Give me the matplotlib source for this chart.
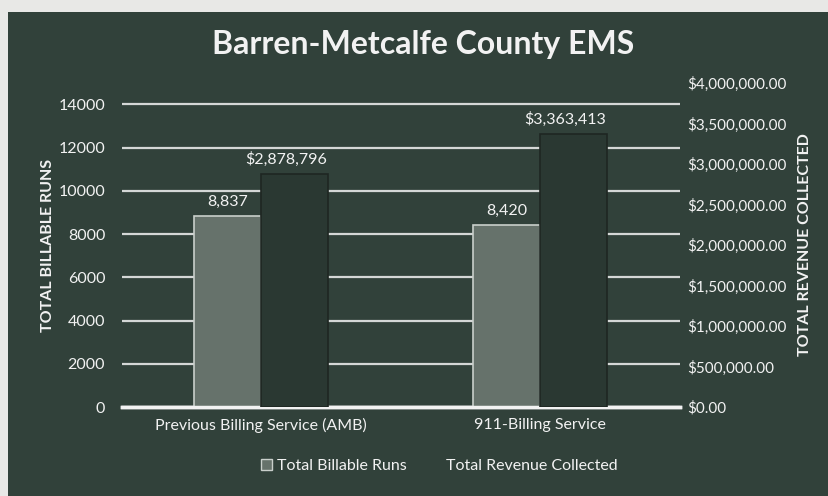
import matplotlib
matplotlib.use("Agg")
import matplotlib.pyplot as plt
from matplotlib.ticker import FuncFormatter
from matplotlib.patches import Patch, Rectangle

categories = ["Previous Billing Service (AMB)", "911-Billing Service"]
billable_runs = [8837, 8420]
revenue = [2878796, 3363413]
left_ticks = [0, 2000, 4000, 6000, 8000, 10000, 12000, 14000]
right_ticks = [0, 500000, 1000000, 1500000, 2000000, 2500000, 3000000, 3500000, 4000000]

BG = "#31413a"
RUNS_C = "#66726b"
REV_C = "#2a3832"
WHITE = "#f2f2f2"
FONT = ["Lato", "DejaVu Sans"]
plt.rcParams["font.family"] = FONT

fig = plt.figure(figsize=(8.29, 4.96), dpi=100, facecolor="#e8e8e6")
fig.patches.append(Rectangle((8 / 829, 0), 1 - 8 / 829, 1 - 12 / 496, transform=fig.transFigure,
                             facecolor=BG, edgecolor="none", zorder=-10))
ax = fig.add_axes([0.147, 0.179, 0.673, 0.654])
ax.set_facecolor("none")
ax2 = ax.twinx()

x = list(range(len(categories)))
w = 0.24
ax.set_xlim(-0.5, 1.5)
ax.set_ylim(0, 15000)
ax2.set_ylim(0, 4000000)

ax.set_yticks(left_ticks)
ax.grid(axis="y", color=WHITE, lw=1.6, alpha=0.85)
ax.set_axisbelow(True)

ax.bar([i - w / 2 for i in x], billable_runs, width=w, color=RUNS_C,
       edgecolor="#c9cfcb", linewidth=1.2, zorder=3)
ax2.bar([i + w / 2 for i in x], revenue, width=w, color=REV_C,
        edgecolor="#1e2622", linewidth=1.2, zorder=3)

for xi, v in zip(x, billable_runs):
    ax.text(xi - w / 2, v + 350, f"{v:,}", ha="center", va="bottom", color=WHITE, fontsize=11.5)
for xi, v in zip(x, revenue):
    ax2.text(xi + w / 2 - 0.03, v + 90000, f"${v:,}", ha="center", va="bottom", color=WHITE, fontsize=11.5)

ax.set_xticks(x)
ax.set_xticklabels(categories, color=WHITE, fontsize=11.5)
ax.tick_params(axis="x", length=0, pad=8)
ax.tick_params(axis="y", length=0, colors=WHITE, labelsize=11.5, pad=12)
ax2.set_yticks(right_ticks)
ax2.yaxis.set_major_formatter(FuncFormatter(lambda v, p: f"${v:,.2f}"))
ax2.tick_params(axis="y", length=0, colors=WHITE, labelsize=11, pad=5)

for a in (ax, ax2):
    for s in ("top", "left", "right"):
        a.spines[s].set_visible(False)
    a.spines["bottom"].set_color(WHITE)
    a.spines["bottom"].set_linewidth(2.5)

ax.set_ylabel("TOTAL BILLABLE RUNS", color=WHITE, fontsize=11.5, fontweight="bold")
ax.yaxis.set_label_coords(-0.12, 0.5)
ax2.set_ylabel("TOTAL REVENUE COLLECTED", color=WHITE, fontsize=11.5, fontweight="bold", rotation=90)
ax2.yaxis.set_label_coords(1.212, 0.5)

fig.text(0.51, 0.91, "Barren-Metcalfe County EMS", ha="center", va="center",
         color=WHITE, fontsize=23, fontweight="bold")

handles = [Patch(facecolor=RUNS_C, edgecolor="#c9cfcb"), Patch(facecolor=BG, edgecolor=BG)]
leg = fig.legend(handles, ["Total Billable Runs", "Total Revenue Collected"], loc="center",
                 bbox_to_anchor=(0.53, 0.06), ncol=2, frameon=False, fontsize=11.5,
                 handlelength=0.7, handleheight=0.7, handletextpad=0.3, columnspacing=1.5)
for t in leg.get_texts():
    t.set_color(WHITE)

fig.savefig("out.png", dpi=100, facecolor=fig.get_facecolor())
